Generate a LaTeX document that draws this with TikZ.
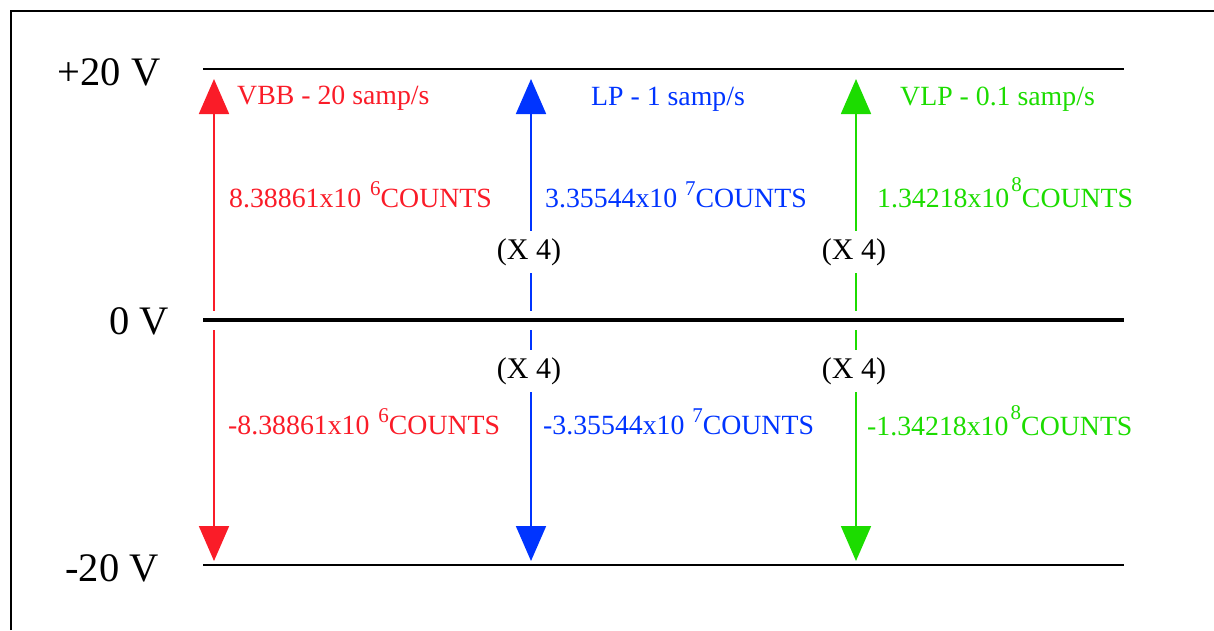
\documentclass[tikz,border=0pt]{standalone}
\usepackage{fontspec}
\setmainfont{Liberation Serif}
\usetikzlibrary{arrows.meta}
\definecolor{vbbred}{RGB}{250,28,40}
\definecolor{lpblue}{RGB}{0,52,255}
\definecolor{vlpgreen}{RGB}{28,220,0}
% gap before the exponent, its raise, the digit
\newcommand{\expo}[3]{\hspace{#1}\raisebox{#2}{\fontsize{21}{21}\selectfont #3}}

\begin{document}
\begin{tikzpicture}[x=1pt,y=-1pt,font=\fontsize{27.8}{33}\selectfont,
  rail/.style={line width=2pt},
  volt/.style={inner sep=0pt,font=\fontsize{40.5}{48}\selectfont},
  lab/.style={anchor=base west,inner sep=0pt},
  chan/.style={line width=1.8pt,
    {Triangle[length=35pt,width=30pt]}-{Triangle[length=35pt,width=30pt]}},
  gain/.style={fill=white,inner sep=0pt,minimum height=42pt,
    font=\fontsize{30}{36}\selectfont}]
  \useasboundingbox (0,0) rectangle (1214,630);
  % frame, cut off at the right and bottom edges
  \draw[line width=2pt] (11,630) |- (1214,11);

  % voltage levels
  \coordinate (topL) at (203,69);  \coordinate (topR) at (1124,69);
  \coordinate (zeroL) at (203,320); \coordinate (zeroR) at (1124,320);
  \coordinate (botL) at (203,565);  \coordinate (botR) at (1124,565);
  \draw[rail] (topL) -- (topR);
  \draw[rail] (botL) -- (botR);
  \node[volt] (vplus) at (109,72) {+20 V};
  \node[volt] (vzero) at (139,321) {0 V};
  \node[volt] (vminus) at (112,568) {-20 V};

  % one full-scale arrow per channel
  \foreach \ch/\col/\x in {vbb/vbbred/214, lp/lpblue/531, vlp/vlpgreen/856}{
    \coordinate (\ch top) at (\x,79);
    \coordinate (\ch bot) at (\x,561);
    \draw[chan,\col] (\ch top) -- (\ch bot);
  }
  % zero line, with a white gap cut into the arrows
  \draw[line width=4pt,preaction={draw=white,line width=19pt}]
    (zeroL) -- (zeroR);

  % sample rates
  \node[lab,text=vbbred] (vbbrate) at (237,104) {VBB - 20 samp/s};
  \node[lab,text=lpblue] (lprate) at (591,105) {LP - 1 samp/s};
  \node[lab,text=vlpgreen] (vlprate) at (900,105) {VLP - 0.1 samp/s};

  % full-scale counts
  \node[lab,text=vbbred] (vbbhi) at (229,207)
    {8.38861x10\expo{0.32em}{0.42em}{6}COUNTS};
  \node[lab,text=lpblue] (lphi) at (545,207)
    {3.35544x10\expo{0.28em}{0.42em}{7}COUNTS};
  \node[lab,text=vlpgreen] (vlphi) at (877,207)
    {1.34218x10\expo{0.08em}{0.55em}{8}COUNTS};
  \node[lab,text=vbbred] (vbblo) at (228,434)
    {-8.38861x10\expo{0.32em}{0.42em}{6}COUNTS};
  \node[lab,text=lpblue] (lplo) at (543,434)
    {-3.35544x10\expo{0.28em}{0.42em}{7}COUNTS};
  \node[lab,text=vlpgreen] (vlplo) at (867,435)
    {-1.34218x10\expo{0.08em}{0.55em}{8}COUNTS};

  % gain factors on the long-period channels
  \node[gain] (lpup) at (529,252) {(X 4)};
  \node[gain] (lpdn) at (529,371) {(X 4)};
  \node[gain] (vlpup) at (854,252) {(X 4)};
  \node[gain] (vlpdn) at (854,371) {(X 4)};
\end{tikzpicture}
\end{document}
